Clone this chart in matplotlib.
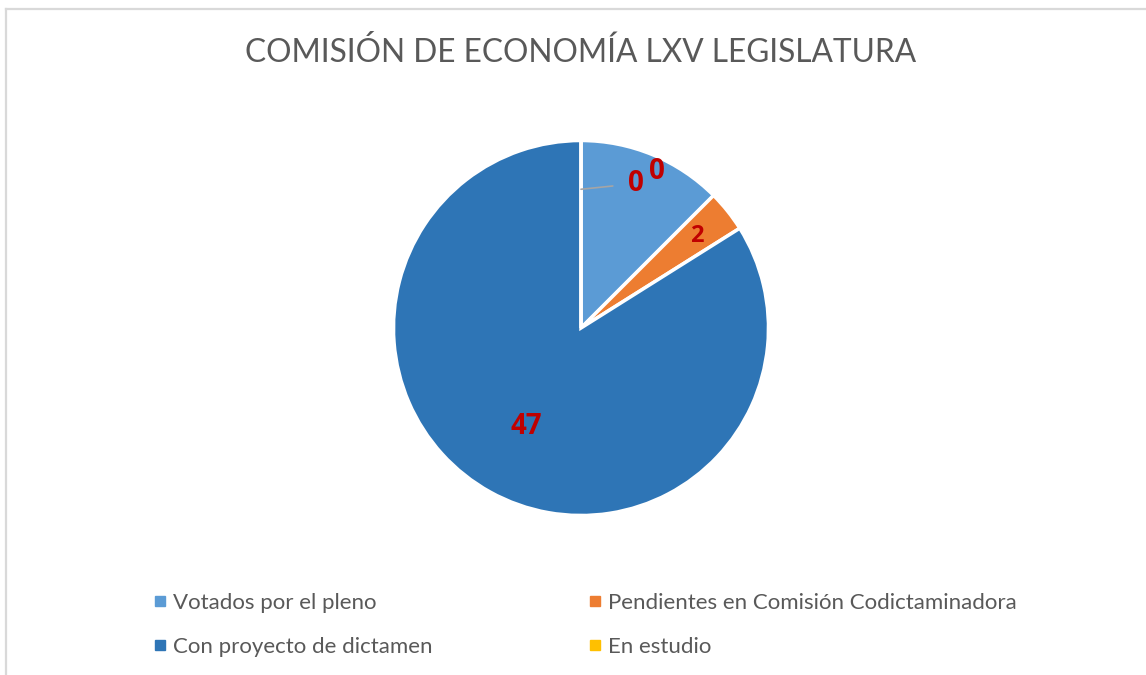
import matplotlib.pyplot as plt
import numpy as np
from matplotlib.lines import Line2D

# data
categories = ["Votados por el pleno", "Pendientes en Comisión Codictaminadora",
              "Con proyecto de dictamen", "En estudio"]
values = [7, 2, 47, 0]
label_text = ["0", "2", "47", "0"]
colors = ["#5B9BD5", "#ED7D31", "#2E75B6", "#FFC000"]
title = "COMISIÓN DE ECONOMÍA LXV LEGISLATURA"

plt.rcParams['font.family'] = ['Lato', 'DejaVu Sans']
label_font = ['Open Sans', 'DejaVu Sans']

W, H = 1146, 675
fig = plt.figure(figsize=(W / 100, H / 100), dpi=100)

# light gray frame (left and top edges visible)
fig.add_artist(Line2D([6 / W, 6 / W], [0, 1 - 9 / H], color="#d9d9d9", lw=1.6))
fig.add_artist(Line2D([6 / W, 1], [1 - 9 / H, 1 - 9 / H], color="#d9d9d9", lw=1.6))

# pie axes: centre (581, 328) px, radius 187.5 px
r = 187.5
cx, cy = 581, 328
ax = fig.add_axes([(cx - r) / W, (H - cy - r) / H, 2 * r / W, 2 * r / H])
wedges, _ = ax.pie(values, colors=colors, startangle=90, counterclock=False,
                   wedgeprops=dict(edgecolor="white", linewidth=2.5))
ax.set_xlim(-1, 1)
ax.set_ylim(-1, 1)
ax.set_aspect("equal")
ax.axis("off")

# data labels
label_r = [0.93, 0.79, 0.60]
label_shift = [(0.05, -0.027), (0.0, 0.0), (0.0, 0.0)]
for i in range(3):
    w = wedges[i]
    ang = np.deg2rad((w.theta1 + w.theta2) / 2)
    x = label_r[i] * np.cos(ang) + label_shift[i][0]
    y = label_r[i] * np.sin(ang) + label_shift[i][1]
    fs = 20 if i != 1 else 17
    ax.text(x, y, label_text[i], color="#C00000", fontsize=fs, fontweight="bold",
            family=label_font, ha="center", va="center")

# zero-sized slice: label with leader line
w = wedges[3]
ang = np.deg2rad(w.theta2)
x0, y0 = 0.74 * np.cos(ang), 0.74 * np.sin(ang)
ax.annotate(label_text[3], xy=(x0, y0), xytext=(0.293, 0.77),
            color="#C00000", fontsize=20, fontweight="bold", family=label_font,
            ha="center", va="center",
            arrowprops=dict(arrowstyle="-", color="#A5A5A5", lw=1.2,
                            shrinkA=9, shrinkB=0))

fig.text(cx / W, 1 - 53 / H, title, ha="center", va="center",
         fontsize=22.8, color="#595959")

# legend filled row by row
order = [0, 2, 1, 3]
handles = [Line2D([], [], marker="s", linestyle="none", markersize=7,
                  markerfacecolor=colors[k], markeredgecolor=colors[k]) for k in order]
fig.legend(handles, [categories[k] for k in order], ncol=2, loc="center left",
           bbox_to_anchor=(133 / W, 1 - 625 / H), frameon=False,
           fontsize=16, labelcolor="#595959", handlelength=0.6,
           handletextpad=0.3, columnspacing=7.0, labelspacing=1.1)

fig.savefig("out.png", dpi=100)
